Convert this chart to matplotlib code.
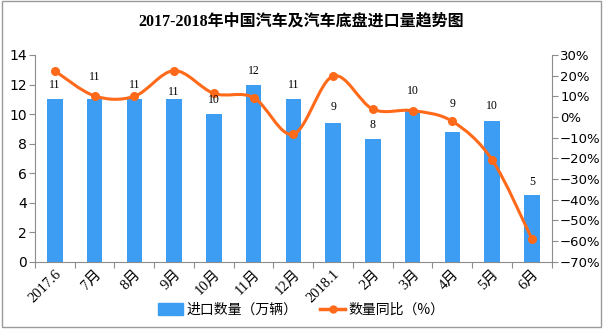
import matplotlib
matplotlib.use("Agg")
import matplotlib.pyplot as plt
from matplotlib.path import Path
from matplotlib.patches import PathPatch, Rectangle
from matplotlib.lines import Line2D
from matplotlib.ticker import FixedLocator, FuncFormatter

# data
months = ["2017.6", "7月", "8月", "9月", "10月", "11月", "12月", "2018.1",
          "2月", "3月", "4月", "5月", "6月"]
imports = [11.0, 11.0, 11.0, 11.0, 10.0, 11.95, 11.0, 9.4, 8.3, 10.2, 8.8, 9.5, 4.55]
import_labels = ["11", "11", "11", "11", "10", "12", "11", "9", "8", "10", "9", "10", "5"]
yoy = [22.3, 10.2, 10.0, 22.4, 11.4, 9.4, -8.3, 19.8, 3.8, 3.1, -2.1, -20.7, -58.8]

BAR = "#3d9df2"
LINE = "#ff6a1a"
GREY = "#8c8c8c"
CJK = ["Noto Sans CJK SC", "DejaVu Sans"]
NUM = ["Liberation Serif", "Noto Sans CJK SC"]

fig = plt.figure(figsize=(6.03, 3.29), dpi=100)
fig.patches.append(Rectangle((0.004, 0.006), 0.992, 0.99, transform=fig.transFigure,
                             fill=False, edgecolor="#9a9a9a", linewidth=1.0))

ax = fig.add_axes([0.058, 0.204, 0.857, 0.629])
x = list(range(len(months)))
ax.bar(x, imports, width=0.39, color=BAR, zorder=2)
ax.set_xlim(-0.5, len(months) - 0.5)
ax.set_ylim(0, 14)
ax.set_yticks(range(0, 15, 2))

ax.xaxis.set_major_locator(FixedLocator([i - 0.5 for i in range(len(months) + 1)]))
ax.xaxis.set_major_formatter(FuncFormatter(lambda v, p: ""))
ax.xaxis.set_minor_locator(FixedLocator(x))
ax.set_xticklabels(months, minor=True)
ax.tick_params(axis="x", which="major", length=4, color=GREY, direction="out")
ax.tick_params(axis="x", which="minor", length=0, pad=4)
for lab in ax.get_xticklabels(minor=True):
    lab.set_rotation(45)
    lab.set_ha("right")
    lab.set_va("top")
    lab.set_rotation_mode("anchor")
    lab.set_fontsize(10.5)
    lab.set_family(NUM)
ax.tick_params(axis="y", length=4, color=GREY, labelsize=10, pad=2)

for s in ["top", "right"]:
    ax.spines[s].set_visible(False)
for s in ["left", "bottom"]:
    ax.spines[s].set_color(GREY)

ax2 = ax.twinx()
ax2.set_ylim(-70, 30)
ax2.set_yticks(range(-70, 31, 10))
ax2.yaxis.set_major_formatter(FuncFormatter(lambda v, p: f"{int(v)}%".replace("-", "\u2212")))
ax2.tick_params(axis="y", length=4, color=GREY, labelsize=9.5, pad=2)
for s in ["top", "left", "bottom"]:
    ax2.spines[s].set_visible(False)
ax2.spines["right"].set_color(GREY)

# smoothed line (bezier through the points, like the spreadsheet's smooth line)
pts = list(zip(x, yoy))
verts = [pts[0]]
codes = [Path.MOVETO]
n = len(pts)
for i in range(n - 1):
    p0 = pts[max(i - 1, 0)]
    p1 = pts[i]
    p2 = pts[i + 1]
    p3 = pts[min(i + 2, n - 1)]
    c1 = (p1[0] + (p2[0] - p0[0]) / 6, p1[1] + (p2[1] - p0[1]) / 6)
    c2 = (p2[0] - (p3[0] - p1[0]) / 6, p2[1] - (p3[1] - p1[1]) / 6)
    verts += [c1, c2, p2]
    codes += [Path.CURVE4] * 3
ax2.add_patch(PathPatch(Path(verts, codes), facecolor="none", edgecolor=LINE,
                        linewidth=2.2, zorder=3))
ax2.plot(x, yoy, linestyle="none", marker="o", markersize=5.5, color=LINE, zorder=4)

# bar value labels; offsets (points) dodge the line, as in the original
label_dy = [6, 12, 6, 1, 6, 6, 6, 7, 6, 10, 15.5, 6.5, 5]
for xi, v, t, dy in zip(x, imports, import_labels, label_dy):
    ax2.annotate(t, (xi, v), xycoords=ax.transData, xytext=(0, dy),
                 textcoords="offset points", ha="center", va="bottom",
                 fontsize=8.5, family=NUM, zorder=5)

fig.text(0.5, 0.935, "2017-2018年中国汽车及汽车底盘进口量趋势图", ha="center", va="center",
         fontsize=11.5, fontweight="bold", family=NUM)

handles = [Rectangle((0, 0), 1, 1, color=BAR),
           Line2D([], [], color=LINE, linewidth=2.5, marker="o", markersize=5)]
fig.legend(handles, ["进口数量（万辆）", "数量同比（%）"], loc="center",
           bbox_to_anchor=(0.5, 0.058), ncol=2, frameon=False,
           prop={"family": CJK, "size": 10}, handlelength=1.8, handleheight=0.9,
           columnspacing=1.6, handletextpad=0.25)

fig.savefig("out.png", dpi=100)
